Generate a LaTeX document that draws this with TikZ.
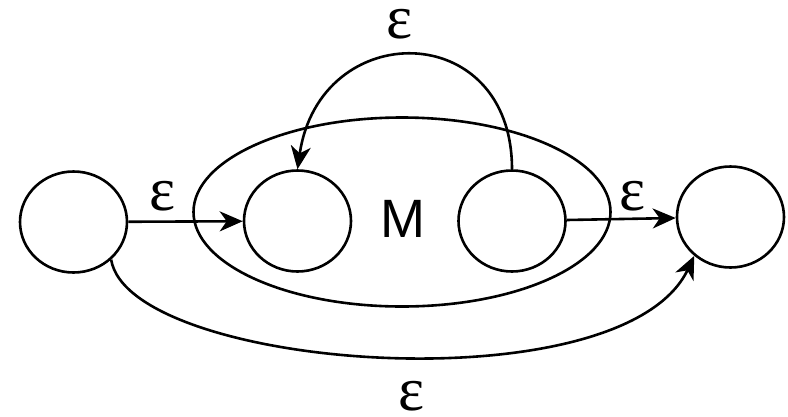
\documentclass[tikz,border=0pt]{standalone}
\usepackage{fontspec}
\setsansfont{Liberation Sans}
\newfontfamily\epsfont{Liberation Serif}
\usetikzlibrary{arrows.meta,shapes.geometric}

\begin{document}
\begin{tikzpicture}[x=1pt,y=-1pt,line width=2.6pt,
  state/.style={draw,ellipse,minimum width=107pt,minimum height=101pt,inner sep=0pt},
  arr/.style={-{Stealth[length=23pt,width=20pt,inset=7pt]}},
  eps/.style={inner sep=0pt,font=\epsfont\fontsize{62}{62}\selectfont}]
\useasboundingbox (0,0) rectangle (788,416);
% machine M and its states
\node[draw,ellipse,minimum width=417pt,minimum height=189pt] (mbox) at (402,212) {};
\node[inner sep=0pt,font=\sffamily\fontsize{54}{54}\selectfont] (mlbl) at (403,219) {M};
\node[state] (q0) at (73.5,222) {};
\node[state] (q1) at (297.5,221) {};
\node[state] (q2) at (512,221) {};
\node[state] (q3) at (730.5,217) {};
% epsilon moves
\draw[arr] (q0) -- (q1);
\draw[arr] (q2) -- (q3);
\draw[arr] (q2.north) .. controls +(0,-152) and +(22,-152) .. (q1.north);
\draw[arr] (q0.-45) .. controls +(18,110) and +(-72,152) .. (q3.-133);
\node[eps] (etop) at (400,24) {ε};
\node[eps] (eleft) at (163,196) {ε};
\node[eps] (eright) at (633,196) {ε};
\node[eps] (ebot) at (412,396) {ε};
\end{tikzpicture}
\end{document}
